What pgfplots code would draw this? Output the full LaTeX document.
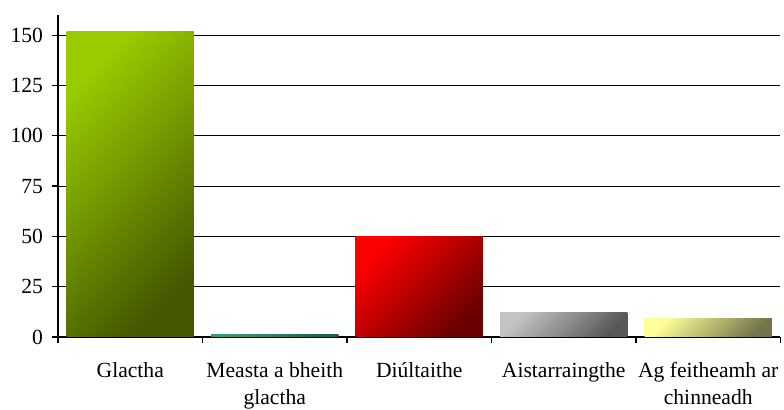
\documentclass[border=0pt]{standalone}
\usepackage{fontspec}
\setmainfont{Liberation Serif}
\usepackage{pgfplots}
\pgfplotsset{compat=1.18}

\definecolor{glA}{HTML}{99CC00}\definecolor{glB}{HTML}{445800}
\definecolor{meA}{HTML}{3A9A6E}\definecolor{meB}{HTML}{1E6446}
\definecolor{diA}{HTML}{FF0000}\definecolor{diB}{HTML}{6A0000}
\definecolor{aiA}{HTML}{C4C4C4}\definecolor{aiB}{HTML}{585858}
\definecolor{agA}{HTML}{FFFF99}\definecolor{agB}{HTML}{74744A}

\begin{document}
\begin{tikzpicture}
\begin{axis}[
  at={(0,0)}, anchor=south west,
  scale only axis, width=361.25pt, height=161pt,
  xmin=-0.5, xmax=4.5, ymin=0, ymax=160,
  axis lines=left, axis line style={-, line width=0.6pt},
  ytick={0,25,...,150},
  ymajorgrids, grid style={black, line width=0.5pt},
  tick align=outside, major tick length=3pt,
  tick style={black, line width=0.6pt},
  xtick={-0.5,0.5,...,4.5}, xticklabels={},
  extra x ticks={0,1,2,3,4},
  extra x tick labels={Glactha, Measta a bheith\\glactha, Diúltaithe, Aistarraingthe, Ag feitheamh ar\\chinneadh},
  extra x tick style={major tick length=0pt},
  ticklabel style={font=\fontsize{10.8}{13.5}\selectfont},
  xticklabel style={align=center, yshift=-9pt},
  yticklabel style={xshift=-1pt},
  /pgf/number format/assume math mode=true,
  ybar, bar width=0.88, bar shift=0pt,
]
\addplot[draw=none, top color=glA, bottom color=glB, shading angle=45] coordinates {(0,152)};
\addplot[draw=none, top color=meA, bottom color=meB, shading angle=45] coordinates {(1,1)};
\addplot[draw=none, top color=diA, bottom color=diB, shading angle=45] coordinates {(2,50)};
\addplot[draw=none, top color=aiA, bottom color=aiB, shading angle=45] coordinates {(3,12)};
\addplot[draw=none, top color=agA, bottom color=agB, shading angle=45] coordinates {(4,9)};
\end{axis}
\pgfresetboundingbox
\useasboundingbox (-29pt,-36.5pt) rectangle (363pt,168.5pt);
\end{tikzpicture}
\end{document}
